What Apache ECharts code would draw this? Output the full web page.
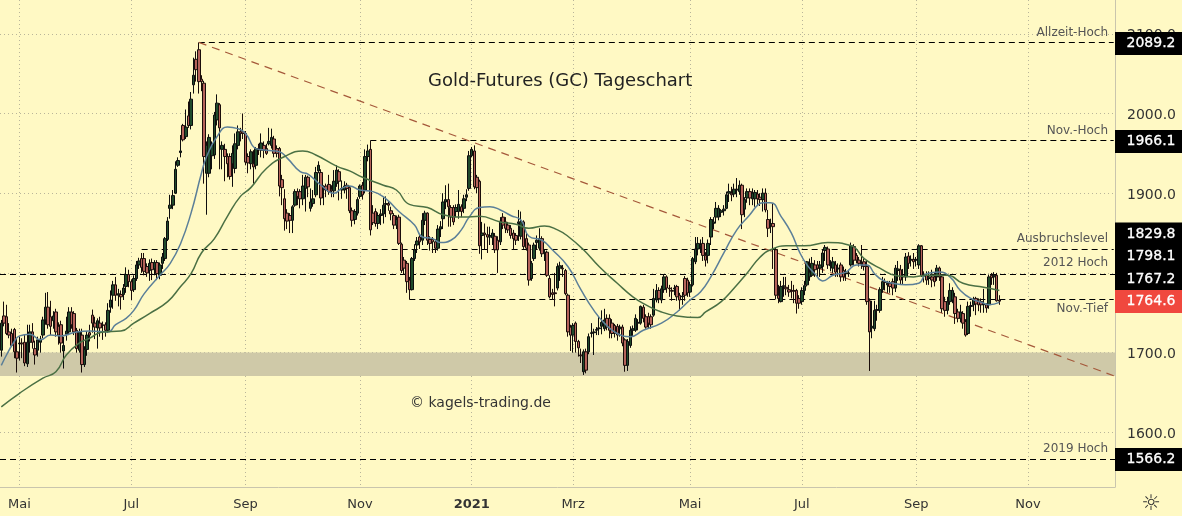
<!DOCTYPE html>
<html><head><meta charset="utf-8">
<style>html,body{margin:0;padding:0;background:#fff9c4}#c{width:1182px;height:516px}</style>
<script src="https://cdn.jsdelivr.net/npm/echarts@6/dist/echarts.min.js"></script>
</head><body><div id="c"></div>
<script>
// trading days: every weekday from the first bar, minus market holidays
const firstDay = '2020-04-22';
const slotCount = 429;
const holidays = ['2020-12-25','2021-01-18','2021-02-15'];
const monthLabels = {'2020-05-01':'Mai','2020-07-01':'Jul','2020-09-01':'Sep','2020-11-02':'Nov','2021-01-01':'2021','2021-03-01':'Mrz','2021-05-03':'Mai','2021-07-01':'Jul','2021-09-01':'Sep','2021-11-01':'Nov'};
const priceTicks = [1600,1700,1800,1900,2000,2100];

// [open, close, low, high]
const candles = [
[1703,1737,1695,1741],[1746,1737,1733,1764],[1745,1724,1722,1760],[1726,1722,1718,1737],[1724,1709,1707,1730],
[1729,1701,1693,1731],[1701,1693,1675,1718],[1711,1712,1690,1720],[1712,1711,1693,1718],[1713,1687,1683,1722],
[1686,1713,1682,1735],[1713,1726,1700,1735],[1726,1713,1705,1737],[1705,1697,1685,1715],[1703,1716,1695,1720],
[1713,1717,1700,1721],[1722,1741,1718,1745],[1741,1757,1735,1775],[1757,1735,1730,1776],[1745,1733,1722,1765],
[1740,1746,1730,1752],[1751,1726,1720,1755],[1733,1722,1710,1738],[1735,1712,1700,1740],[1702,1709,1680,1720],
[1723,1727,1715,1745],[1726,1751,1722,1757],[1751,1735,1730,1757],[1749,1726,1722,1752],[1728,1705,1700,1731],
[1703,1726,1700,1730],[1722,1685,1675,1730],[1685,1704,1682,1708],[1704,1722,1696,1727],[1725,1722,1714,1735],
[1747,1737,1725,1754],[1737,1732,1717,1745],[1731,1740,1705,1743],[1737,1731,1720,1745],[1735,1734,1716,1739],
[1735,1728,1720,1738],[1728,1753,1725,1762],[1757,1766,1750,1778],[1772,1785,1755,1790],[1785,1772,1765,1795],
[1772,1774,1758,1780],[1773,1770,1754,1778],[1773,1781,1766,1786],[1783,1798,1775,1807],[1798,1789,1782,1804],
[1789,1778,1766,1792],[1779,1793,1776,1797],[1793,1810,1790,1815],[1810,1815,1805,1819],[1818,1807,1800,1825],
[1818,1802,1797,1825],[1808,1800,1795,1812],[1803,1812,1790,1817],[1813,1804,1791,1818],[1805,1813,1797,1816],
[1813,1799,1791,1816],[1797,1810,1792,1813],[1812,1820,1805,1825],[1818,1843,1815,1845],[1842,1865,1840,1870],
[1881,1885,1868,1898],[1885,1897,1880,1904],[1900,1930,1899,1940],[1935,1941,1933,1945],[1951,1953,1945,1973],
[1985,1967,1965,1987],[1971,1983,1968,2005],[1997,1985,1982,2015],[1985,2018,1980,2027],[2036,2048,2025,2070],
[2068,2055,2040,2078],[2080,2040,2025,2089],[2043,2040,2028,2048],[2038,1946,1912,2041],[1925,1960,1873,1965],
[1925,1970,1920,1974],[1947,1960,1930,1965],[1948,1998,1943,2002],[1992,2013,1985,2024],[2011,1982,1930,2013],
[1955,1960,1930,1965],[1955,1946,1915,1962],[1946,1937,1920,1950],[1946,1921,1917,1950],[1937,1950,1908,1960],
[1931,1962,1925,1975],[1960,1977,1955,1985],[1977,1975,1965,1982],[1977,1975,1968,2000],[1975,1939,1935,1978],
[1946,1938,1925,1950],[1937,1952,1930,1955],[1937,1933,1912,1954],[1935,1956,1930,1958],[1956,1955,1948,1962],
[1954,1963,1945,1975],[1960,1954,1944,1965],[1956,1950,1948,1962],[1962,1965,1960,1982],[1960,1970,1956,1981],
[1968,1950,1945,1972],[1956,1950,1945,1960],[1956,1909,1896,1958],[1917,1907,1885,1923],[1893,1868,1853,1905],
[1875,1865,1855,1880],[1872,1866,1850,1875],[1866,1883,1850,1885],[1885,1902,1883,1905],[1902,1896,1885,1906],
[1902,1893,1881,1905],[1893,1909,1885,1923],[1906,1920,1877,1923],[1920,1908,1895,1922],[1881,1889,1877,1906],
[1887,1893,1883,1904],[1898,1926,1895,1933],[1928,1935,1925,1940],[1926,1894,1885,1930],[1905,1906,1885,1910],
[1909,1904,1895,1912],[1911,1902,1898,1923],[1905,1903,1895,1910],[1903,1915,1895,1929],[1912,1929,1908,1935],
[1927,1915,1891,1930],[1904,1906,1893,1916],[1904,1909,1900,1915],[1910,1906,1893,1913],[1907,1878,1875,1909],
[1878,1866,1858,1882],[1867,1877,1861,1880],[1875,1892,1872,1895],[1896,1909,1893,1911],[1910,1898,1892,1914],
[1904,1946,1900,1955],[1946,1953,1940,1961],[1955,1854,1847,1966],[1875,1863,1860,1885],[1877,1862,1858,1881],
[1862,1872,1855,1876],[1872,1874,1860,1880],[1874,1885,1862,1895],[1886,1887,1870,1896],[1887,1885,1878,1890],
[1878,1874,1866,1883],[1872,1860,1855,1875],[1860,1867,1855,1872],[1870,1837,1835,1873],[1836,1803,1800,1838],
[1816,1806,1798,1820],[1812,1789,1775,1815],[1791,1779,1767,1795],[1779,1818,1778,1820],[1818,1829,1815,1836],
[1835,1840,1825,1845],[1845,1839,1830,1848],[1841,1866,1835,1875],[1866,1875,1860,1878],[1875,1841,1835,1876],
[1842,1837,1828,1846],[1842,1839,1825,1845],[1839,1831,1825,1842],[1831,1855,1828,1860],[1855,1858,1845,1865],
[1868,1889,1855,1900],[1889,1892,1880,1910],[1892,1883,1858,1912],[1882,1870,1858,1885],[1882,1864,1860,1885],
[1877,1882,1870,1886],[1877,1886,1868,1904],[1883,1877,1870,1886],[1881,1893,1875,1898],[1895,1898,1890,1905],
[1906,1947,1903,1953],[1947,1955,1945,1958],[1953,1908,1905,1960],[1920,1907,1900,1923],[1915,1834,1824,1917],
[1847,1850,1817,1864],[1850,1848,1830,1862],[1848,1845,1825,1858],[1845,1847,1835,1858],[1844,1850,1835,1855],
[1846,1829,1825,1850],[1841,1829,1800,1846],[1839,1865,1835,1870],[1870,1860,1855,1875],[1864,1856,1850,1870],
[1860,1854,1850,1864],[1856,1847,1843,1860],[1850,1843,1829,1854],[1847,1841,1835,1850],[1862,1864,1840,1879],
[1846,1864,1842,1877],[1864,1833,1830,1866],[1843,1831,1828,1850],[1835,1791,1784,1838],[1793,1812,1790,1815],
[1818,1835,1815,1838],[1838,1841,1829,1847],[1831,1843,1828,1856],[1843,1824,1820,1846],[1825,1826,1815,1830],
[1826,1797,1795,1828],[1793,1770,1768,1797],[1775,1773,1766,1780],[1775,1774,1758,1800],[1781,1808,1778,1812],
[1806,1809,1790,1814],[1806,1805,1795,1810],[1803,1774,1772,1805],[1772,1726,1720,1774],[1732,1722,1702,1735],
[1722,1734,1700,1737],[1737,1714,1700,1739],[1714,1706,1695,1716],[1697,1696,1687,1705],[1676,1701,1672,1704],
[1701,1678,1674,1705],[1701,1720,1698,1724],[1724,1725,1719,1737],[1725,1726,1697,1730],[1728,1729,1722,1732],
[1730,1731,1722,1745],[1733,1738,1723,1753],[1730,1741,1727,1755],[1743,1732,1728,1748],[1743,1728,1718,1748],
[1737,1724,1718,1742],[1734,1724,1719,1736],[1733,1722,1715,1736],[1730,1732,1720,1735],[1732,1712,1708,1735],
[1716,1684,1676,1718],[1684,1714,1677,1717],[1709,1728,1706,1733],[1728,1730,1720,1734],[1728,1743,1726,1748],
[1737,1738,1728,1742],[1737,1758,1735,1759],[1757,1743,1738,1760],[1745,1732,1730,1748],[1745,1737,1730,1750],
[1745,1735,1730,1748],[1747,1768,1745,1780],[1766,1778,1763,1786],[1778,1768,1762,1782],[1766,1780,1762,1784],
[1779,1795,1775,1798],[1795,1781,1775,1797],[1781,1780,1770,1785],[1778,1777,1765,1782],[1780,1781,1772,1785],
[1783,1770,1765,1785],[1772,1766,1753,1775],[1770,1771,1760,1776],[1793,1772,1765,1796],[1791,1775,1770,1794],
[1776,1785,1770,1789],[1785,1818,1783,1820],[1814,1830,1811,1845],[1830,1837,1822,1845],[1833,1835,1825,1842],
[1837,1822,1815,1845],[1822,1816,1808,1826],[1822,1837,1812,1842],[1845,1867,1835,1870],[1862,1864,1855,1870],
[1870,1881,1862,1889],[1870,1881,1866,1885],[1876,1878,1870,1880],[1878,1880,1872,1885],[1881,1898,1880,1902],
[1900,1902,1889,1912],[1900,1898,1890,1908],[1899,1905,1895,1912],[1904,1905,1895,1919],[1902,1910,1898,1916],
[1910,1873,1855,1912],[1880,1892,1870,1895],[1894,1902,1888,1906],[1902,1894,1885,1906],[1893,1900,1885,1906],
[1893,1901,1883,1904],[1899,1893,1885,1904],[1895,1892,1884,1900],[1892,1900,1877,1906],[1900,1879,1876,1906],
[1867,1856,1845,1879],[1860,1862,1850,1868],[1862,1858,1805,1887],[1829,1772,1767,1832],[1772,1768,1762,1785],
[1764,1783,1763,1790],[1783,1784,1770,1795],[1782,1780,1772,1795],[1779,1776,1770,1785],[1778,1777,1768,1790],
[1778,1777,1762,1785],[1778,1762,1749,1780],[1768,1762,1755,1772],[1764,1778,1760,1782],[1778,1784,1772,1790],
[1785,1814,1783,1815],[1795,1801,1790,1818],[1797,1812,1795,1820],[1810,1804,1795,1816],[1810,1806,1795,1815],
[1806,1810,1795,1815],[1808,1825,1800,1830],[1828,1832,1815,1835],[1830,1810,1805,1833],[1809,1810,1802,1816],
[1806,1814,1800,1820],[1810,1801,1795,1815],[1805,1806,1795,1812],[1810,1795,1789,1813],[1803,1795,1790,1808],
[1799,1800,1790,1805],[1799,1800,1795,1804],[1810,1834,1808,1838],[1833,1816,1810,1836],[1822,1816,1812,1825],
[1816,1812,1808,1820],[1812,1811,1805,1835],[1814,1808,1803,1818],[1808,1764,1760,1815],[1765,1726,1677,1768],
[1731,1733,1718,1765],[1730,1753,1727,1765],[1753,1754,1740,1760],[1753,1779,1750,1782],[1779,1789,1775,1795],
[1789,1788,1778,1793],[1785,1787,1775,1790],[1787,1783,1775,1790],[1789,1781,1772,1793],[1781,1806,1776,1810],
[1803,1805,1790,1815],[1804,1791,1785,1810],[1795,1796,1785,1805],[1795,1820,1790,1825],[1821,1812,1805,1826],
[1816,1817,1808,1822],[1817,1814,1805,1825],[1816,1817,1808,1820],[1810,1834,1805,1836],[1834,1797,1795,1835],
[1797,1796,1788,1802],[1797,1791,1785,1802],[1793,1795,1785,1802],[1795,1791,1782,1804],[1795,1789,1783,1800],
[1795,1806,1790,1810],[1806,1795,1790,1808],[1795,1755,1750,1798],[1764,1753,1745,1770],[1753,1764,1748,1770],
[1764,1778,1760,1787],[1766,1778,1762,1782],[1770,1749,1736,1775],[1751,1743,1738,1755],[1743,1751,1738,1760],
[1749,1737,1730,1752],[1739,1722,1720,1742],[1724,1758,1722,1764],[1758,1759,1745,1764],[1760,1767,1752,1770],
[1768,1761,1747,1770],[1765,1760,1752,1768],[1764,1760,1750,1768],[1760,1761,1750,1780],[1760,1756,1750,1762],
[1760,1795,1755,1798],[1797,1794,1785,1800],[1795,1797,1785,1801],[1797,1765,1764,1800],[1766,1764.6,1760,1772]
];

// moving averages: [bar number, price]
const blueAverage = [[0,1684],[2,1697],[4.6,1714],[7.2,1721],[11,1723],[14.9,1716],[18.7,1722],[22.6,1721],[29,1726],[34.1,1727],[40.5,1726],[43.7,1735],[48.2,1743],[50.8,1753],[54.6,1774],[61,1797],[64.9,1812],[68.8,1837],[72.6,1875],[76.5,1925],[79,1946],[82.9,1971],[86.7,1983],[90.6,1981],[94.4,1975],[97.6,1956],[102,1954],[106.6,1952],[109.8,1944],[115,1927],[118.1,1924],[122.6,1910],[127.8,1900],[131,1906],[134.2,1909],[138,1904],[143.2,1902],[148.3,1893],[153.4,1877],[158.5,1860],[162.4,1845],[166.3,1843],[168.8,1838],[172.6,1841],[176.5,1854],[180.4,1870],[184.2,1882],[188,1883],[191.9,1879],[195.7,1872],[199.6,1866],[203.4,1846],[207.9,1841],[212.4,1829],[218.2,1808],[222.7,1779],[227.8,1753],[231.7,1737],[236.8,1724],[241.9,1720],[247,1728],[253.5,1737],[259.9,1751],[265,1766],[268.9,1776],[272.7,1795],[277.8,1825],[283,1854],[287.5,1873],[290.7,1885],[293.2,1888],[295.8,1888],[299.6,1871],[303.5,1850],[306.7,1827],[309.9,1810],[312.5,1799],[316.3,1790],[320.2,1797],[325.3,1801],[329.1,1810],[333,1810],[335.6,1799],[338.8,1791],[343.3,1787],[348.4,1785],[352.9,1787],[356.1,1799],[360.6,1801],[365,1795],[368.9,1778],[373.4,1768],[377.9,1762],[380.4,1760],[384.3,1763]];
const greenAverage = [[0,1632],[7.2,1649],[16.4,1668],[21.3,1676],[25.2,1697],[30.3,1712],[34.1,1718],[39.3,1726],[45.7,1727],[50.8,1737],[57.2,1749],[63.6,1764],[68.8,1783],[72.6,1799],[76.5,1825],[81.6,1843],[86.7,1871],[91.8,1896],[95.7,1907],[102,1931],[108.5,1946],[116.2,1953],[121.4,1948],[129,1934],[134.2,1928],[139.3,1920],[147,1910],[152,1904],[157.3,1886],[163.7,1882],[170,1873],[177.8,1870],[184.2,1871],[191.9,1864],[198.3,1861],[203.4,1856],[208.6,1859],[213.7,1854],[218.2,1846],[224,1829],[230.4,1808],[236.8,1787],[243.2,1770],[248.3,1760],[253.5,1751],[259.9,1746],[267.6,1744],[271.4,1751],[276.5,1764],[281.7,1781],[286.8,1800],[292,1820],[295.8,1829],[302.2,1834],[308.6,1834],[317.6,1838],[326.6,1834],[332.3,1818],[338.1,1806],[344.5,1796],[351,1795],[356,1797],[363.8,1797],[370.2,1787],[377.9,1782],[383.6,1778]];

// horizontal levels: price, first bar (null = whole width)
const levelPrices = [2089.2,1966.1,1829.8,1798.1,1767.2,1566.2];
const levelStarts = [76,142,54,null,157,null];
const trendStart = [76,2089.2];
const trendEnd = [428,1671];
const zoneBand = [1670.6,1700];

const levelNotes = ['Allzeit-Hoch','Nov.-Hoch','Ausbruchslevel','2012 Hoch','Nov.-Tief','2019 Hoch'];
const priceTags = ['2089.2','1966.1','1829.8','1798.1','1767.2','1764.6','1566.2'];

const FONT = '"DejaVu Sans", sans-serif';
const categories = [];
for (let t = Date.parse(firstDay + 'T00:00:00Z'); categories.length < slotCount; t += 864e5) {
  const d = new Date(t), s = d.toISOString().slice(0,10), w = d.getUTCDay();
  if (w !== 0 && w !== 6 && !holidays.includes(s)) categories.push(s);
}
const isMonth = (i, v) => monthLabels[v] !== undefined;
const lastBar = slotCount - 1;
const lineStyle = {color:'#000',type:[6,4],width:1};

const tagY = [43.5,141.5,234,256.5,279,301.5,459.5];
const noteY = [32.5,131,238.5,263,309,448.5];
const graphics = [];
priceTags.forEach((t,i)=>{
  const red = t === '1764.6';
  graphics.push({type:'rect',z:50,shape:{x:1115,y:tagY[i]-11.5,width:67,height:23},style:{fill:red?'#f0483e':'#000'}});
  graphics.push({type:'text',z:51,x:1151,y:tagY[i],style:{text:t,fill:'#fff',stroke:'#fff',lineWidth:0.3,font:'14px '+FONT,textAlign:'center',textVerticalAlign:'middle'}});
});
levelNotes.forEach((t,i)=>graphics.push({type:'text',z:40,x:1108,y:noteY[i],style:{text:t,fill:'#555',font:'12px '+FONT,textAlign:'right',textVerticalAlign:'middle'}}));
graphics.push({type:'text',z:40,x:410,y:403,style:{text:'© kagels-trading.de',fill:'#333',font:'14px '+FONT,textAlign:'left',textVerticalAlign:'middle'}});
graphics.push({type:'text',z:40,x:1151,y:504,style:{text:'☼',fill:'#333',font:'22px '+FONT,textAlign:'center',textVerticalAlign:'middle'}});

const chart = echarts.init(document.getElementById('c'),null,{renderer:'canvas'});
chart.setOption({
  animation:false,
  backgroundColor:'#fff9c4',
  title:{text:'Gold-Futures (GC) Tageschart',left:428,top:72,padding:0,textStyle:{fontFamily:FONT,fontSize:18,fontWeight:'normal',color:'#222'}},
  grid:{left:0,right:67,top:0,bottom:29,containLabel:false},
  graphic:graphics,
  xAxis:{type:'category',data:categories,boundaryGap:true,
    axisLine:{lineStyle:{color:'#c9c5ad',width:1}},axisTick:{show:false,alignWithLabel:true,interval:isMonth},
    axisLabel:{interval:isMonth,margin:11,color:'#333',fontFamily:FONT,fontSize:13,
      formatter:v=>monthLabels[v]==='2021'?'{b|2021}':(monthLabels[v]||''),
      rich:{b:{fontWeight:'bold',fontFamily:FONT,fontSize:13,color:'#333'}}},
    splitLine:{show:true,interval:isMonth,alignWithLabel:true,lineStyle:{color:'#b9b59a',type:[1,3],width:1}}},
  yAxis:{type:'value',position:'right',min:1531.4,max:2142.4,scale:true,
    axisLine:{show:true,lineStyle:{color:'#c9c5ad',width:1}},
    axisTick:{show:false,customValues:priceTicks},
    axisLabel:{customValues:priceTicks,margin:12,color:'#333',formatter:v=>'{p|'+v.toFixed(1)+'}',
      rich:{p:{fontFamily:FONT,fontSize:14,color:'#333',padding:[4,0,0,0]}}},
    splitLine:{show:true,lineStyle:{color:'#b9b59a',type:[1,3],width:1}}},
  series:[
    {type:'candlestick',name:'GC',data:candles,barWidth:3,z:5,
      itemStyle:{color:'#1f4a2b',color0:'#b5635a',borderColor:'#0d0d0d',borderColor0:'#1a0d0a',borderWidth:1},
      markArea:{silent:true,z:1,itemStyle:{color:'#cfc9a8'},data:[[{yAxis:zoneBand[1]},{yAxis:zoneBand[0]}]]},
      markLine:{silent:true,symbol:'none',animation:false,label:{show:false},lineStyle:lineStyle,
        data:levelPrices.map((p,i)=>levelStarts[i]===null
          ?{yAxis:p}
          :[{coord:[levelStarts[i],p]},{coord:[lastBar,p]}]).concat([
          [{coord:trendStart,lineStyle:{color:'#a5583a',type:[8,6],width:1.2}},{coord:trendEnd}]
        ])}},
    {type:'line',name:'blue',data:blueAverage,smooth:0.5,symbol:'none',z:6,lineStyle:{color:'#5b7f98',width:1.5}},
    {type:'line',name:'green',data:greenAverage,smooth:0.5,symbol:'none',z:6,lineStyle:{color:'#4b7044',width:1.5}}
  ]
});
</script></body></html>
